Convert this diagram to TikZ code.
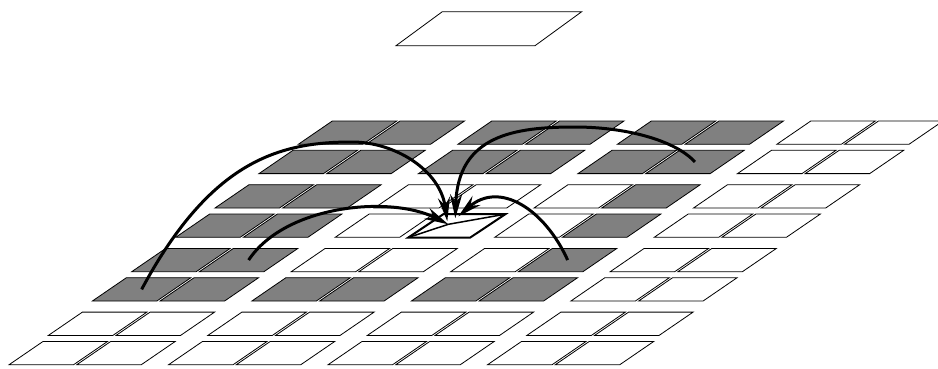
\documentclass[tikz,border=0pt]{standalone}
\usetikzlibrary{arrows.meta,calc}
\definecolor{cellgray}{gray}{0.5}
\tikzset{
  cellbox/.style={draw=black, line width=0.8pt, line join=miter},
  focusbox/.style={draw=black, line width=2pt, fill=white, line join=miter},
  flow/.style={line width=3pt, -{Stealth[length=24pt,width=12pt,inset=8pt]}},
}
\begin{document}
\begin{tikzpicture}[x=1pt,y=-1pt]
\useasboundingbox (0,0) rectangle (938,368);
% floating plane
\draw[cellbox] (396,45.7) -- (535,45.7) -- (581.7,11.7) -- (442.3,11.7) -- cycle;
% grid of cells
\foreach \b in {0,...,3}{
 \foreach \r in {0,1}{
  \foreach \c in {0,...,3}{
   \foreach \k in {0,1}{
     \pgfmathsetmacro\cx{298.3-83.3*\b-39.3*\r+159.5*\c+67.7*\k}
     \pgfmathsetmacro\cy{144.3+63.7*\b+29.3*\r}
     \pgfmathtruncatemacro\g{((\b==0)&&(\c<3)) || ((\b==1)&&((\c==0)||((\c==2)&&(\k==1)))) || ((\b==2)&&((\c==0)||((\c==2)&&(\k==1))||((\r==1)&&(\c<3))))}
     \pgfmathtruncatemacro\sk{(\b==1)&&(\r==1)&&(\c==1)&&(\k==1)}
     \ifnum\g=1 \def\fc{cellgray}\else\def\fc{white}\fi
     \ifnum\sk=0
       \path[cellbox, fill=\fc] (\cx,\cy) -- ++(64.5,0) -- ++(34,-23.3) -- ++(-64.5,0) -- cycle;
     \fi
     \coordinate (c\b\r\c\k) at (\cx+49.25,\cy-11.65);
}}}}
% focus cell
\coordinate (fbl) at (408.3,237.5);
\coordinate (fc) at (448.3,224.3);
\draw[focusbox] (fbl) -- ++(62,0) -- ++(35,-23.3) -- ++(-62,0) -- cycle;
\draw[line width=1.5pt] (fbl) -- (fc) -- ($(fbl)+(97,-23.3)$);
% arrow tips around the focus cell
\coordinate (t1) at ($(fc)+(-1,-3)$);
\coordinate (t2) at ($(fc)+(0,0)$);
\coordinate (t3) at ($(fc)+(7,-6)$);
\coordinate (t4) at ($(fc)+(10,-8)$);
% arrows
\draw[flow] (c2100) .. controls (211,160) and (280,142) .. (352,142)
                    .. controls (395,142) and (440,170) .. (t1);
\draw[flow] (c2001) .. controls (285,205) and (390,195) .. (t2);
\draw[flow] (c0121) .. controls (675,140) and (625,127) .. (575,127)
                    .. controls (515,127) and (458,135) .. (t3);
\draw[flow] (c2021) .. controls (545,210) and (500,180) .. (t4);
\end{tikzpicture}
\end{document}
